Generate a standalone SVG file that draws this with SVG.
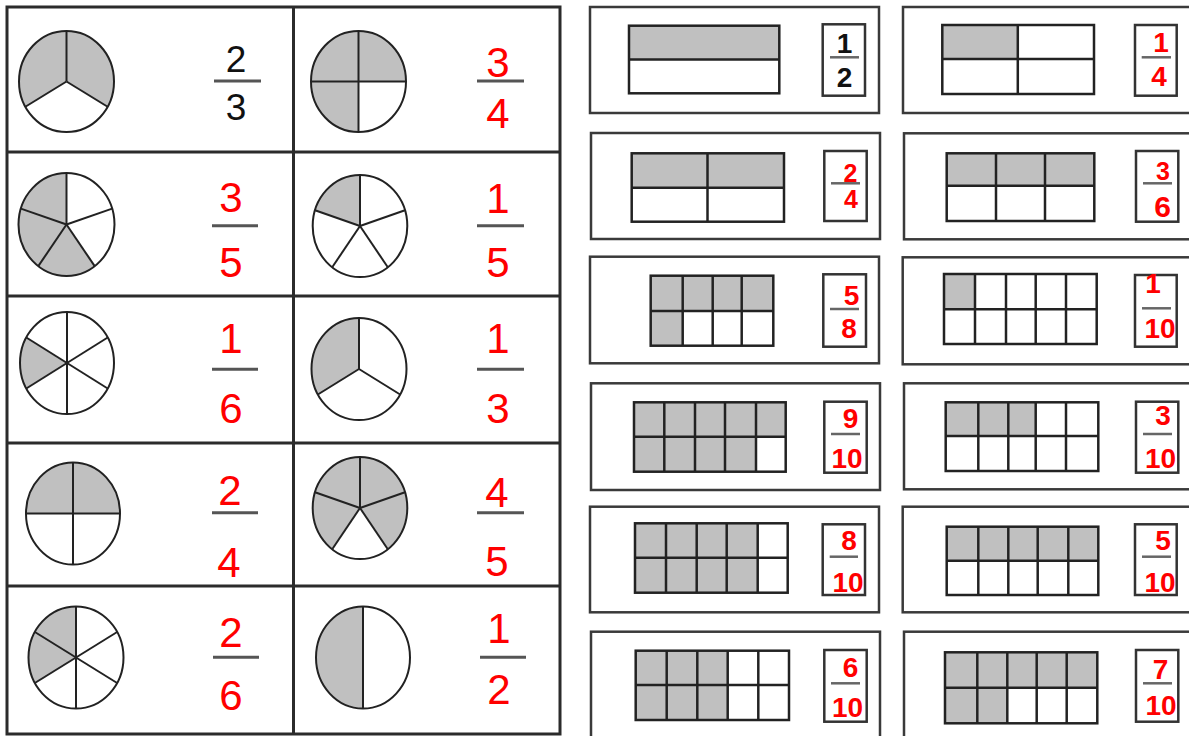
<svg xmlns="http://www.w3.org/2000/svg" width="1189" height="736" viewBox="0 0 1189 736">
<style>
.grid{fill:none;stroke:#2b2b2b;stroke-width:3}
.pie{fill:none;stroke:#222;stroke-width:2}
.sh{fill:#c0c0c0;stroke:none}
.sp{stroke:#222;stroke-width:2}
.fl{stroke:#555;stroke-width:3}
.bk{fill:#111;font-family:"Liberation Sans",Arial,sans-serif;font-size:37px;text-anchor:middle}
.rd{fill:#ff0000;font-family:"Liberation Sans",Arial,sans-serif;font-size:42px;text-anchor:middle}
.card{fill:#fff;stroke:#3a3a3a;stroke-width:2.5}
.box{fill:#fff;stroke:#333;stroke-width:2.5}
.gr{fill:none;stroke:#222;stroke-width:2.5}
.gl{stroke:#222;stroke-width:2.5}
.bl{stroke:#666;stroke-width:2.5}
.rb{fill:#ff0000;font-family:"Liberation Sans",Arial,sans-serif;font-weight:bold;font-size:28px;text-anchor:middle}
.kb{fill:#111;font-family:"Liberation Sans",Arial,sans-serif;font-weight:bold;font-size:28px;text-anchor:middle}
</style>
<rect width="1189" height="736" fill="#fff"/>

<g id="table">
<rect class="grid" x="7" y="7" width="553" height="727"/>
<line class="grid" x1="293.5" y1="7" x2="293.5" y2="734"/>
<line class="grid" x1="7" y1="152" x2="560" y2="152"/>
<line class="grid" x1="7" y1="296" x2="560" y2="296"/>
<line class="grid" x1="7" y1="443" x2="560" y2="443"/>
<line class="grid" x1="7" y1="586" x2="560" y2="586"/>
</g>

<g id="cell-2-3">
<path class="sh" d="M66.5,81.5 L25.36,106.75 A47.5,50.5 0 1 1 107.64,106.75 Z"/>
<ellipse class="pie" cx="66.5" cy="81.5" rx="47.5" ry="50.5"/>
<line class="sp" x1="66.5" y1="81.5" x2="66.5" y2="31"/>
<line class="sp" x1="66.5" y1="81.5" x2="25.36" y2="106.75"/>
<line class="sp" x1="66.5" y1="81.5" x2="107.64" y2="106.75"/>
<text class="bk" x="236" y="72">2</text>
<line class="fl" x1="214" y1="81" x2="261" y2="81"/>
<text class="bk" x="236" y="120">3</text>
</g>

<g id="cell-3-4">
<path class="sh" d="M358.5,81.5 L358.5,132 A47.5,50.5 0 1 1 406,81.5 Z"/>
<ellipse class="pie" cx="358.5" cy="81.5" rx="47.5" ry="50.5"/>
<line class="sp" x1="311" y1="81.5" x2="406" y2="81.5"/>
<line class="sp" x1="358.5" y1="31" x2="358.5" y2="132"/>
<text class="rd" x="498" y="77">3</text>
<line class="fl" x1="477" y1="81" x2="524" y2="81"/>
<text class="rd" x="498" y="128">4</text>
</g>

<g id="cell-3-5">
<path class="sh" d="M66.5,224.5 L94.71,266.16 A48,51.5 0 1 1 66.5,173 Z"/>
<ellipse class="pie" cx="66.5" cy="224.5" rx="48" ry="51.5"/>
<line class="sp" x1="66.5" y1="224.5" x2="66.5" y2="173"/>
<line class="sp" x1="66.5" y1="224.5" x2="112.15" y2="208.59"/>
<line class="sp" x1="66.5" y1="224.5" x2="94.71" y2="266.16"/>
<line class="sp" x1="66.5" y1="224.5" x2="38.29" y2="266.16"/>
<line class="sp" x1="66.5" y1="224.5" x2="20.85" y2="208.59"/>
<text class="rd" x="231" y="212">3</text>
<line class="fl" x1="212" y1="225.7" x2="258" y2="225.7"/>
<text class="rd" x="231" y="277">5</text>
</g>

<g id="cell-1-5">
<path class="sh" d="M360,226 L315.01,210.24 A47.3,51 0 0 1 360,175 Z"/>
<ellipse class="pie" cx="360" cy="226" rx="47.3" ry="51"/>
<line class="sp" x1="360" y1="226" x2="360" y2="175"/>
<line class="sp" x1="360" y1="226" x2="404.99" y2="210.24"/>
<line class="sp" x1="360" y1="226" x2="387.8" y2="267.26"/>
<line class="sp" x1="360" y1="226" x2="332.2" y2="267.26"/>
<line class="sp" x1="360" y1="226" x2="315.01" y2="210.24"/>
<text class="rd" x="498" y="213">1</text>
<line class="fl" x1="477" y1="225.7" x2="524" y2="225.7"/>
<text class="rd" x="498" y="277">5</text>
</g>

<g id="cell-1-6">
<path class="sh" d="M67,363 L26.3,388.5 A47,51 0 0 1 26.3,337.5 Z"/>
<ellipse class="pie" cx="67" cy="363" rx="47" ry="51"/>
<line class="sp" x1="67" y1="312" x2="67" y2="414"/>
<line class="sp" x1="26.3" y1="337.5" x2="107.7" y2="388.5"/>
<line class="sp" x1="26.3" y1="388.5" x2="107.7" y2="337.5"/>
<text class="rd" x="231" y="353">1</text>
<line class="fl" x1="212" y1="369.3" x2="258" y2="369.3"/>
<text class="rd" x="231" y="423">6</text>
</g>

<g id="cell-1-3">
<path class="sh" d="M359,369 L317.86,394.5 A47.5,51 0 0 1 359,318 Z"/>
<ellipse class="pie" cx="359" cy="369" rx="47.5" ry="51"/>
<line class="sp" x1="359" y1="369" x2="359" y2="318"/>
<line class="sp" x1="359" y1="369" x2="400.14" y2="394.5"/>
<line class="sp" x1="359" y1="369" x2="317.86" y2="394.5"/>
<text class="rd" x="498" y="353">1</text>
<line class="fl" x1="477" y1="369.3" x2="524" y2="369.3"/>
<text class="rd" x="498" y="423">3</text>
</g>

<g id="cell-2-4">
<path class="sh" d="M26,513.5 A47,51 0 0 1 120,513.5 Z"/>
<ellipse class="pie" cx="73" cy="513.5" rx="47" ry="51"/>
<line class="sp" x1="26" y1="513.5" x2="120" y2="513.5"/>
<line class="sp" x1="73" y1="462.5" x2="73" y2="564.5"/>
<text class="rd" x="230" y="505">2</text>
<line class="fl" x1="212" y1="512.7" x2="258" y2="512.7"/>
<text class="rd" x="229" y="576.7">4</text>
</g>

<g id="cell-4-5">
<path class="sh" d="M360,508 L332.2,549.26 A47.3,51 0 1 1 387.8,549.26 Z"/>
<ellipse class="pie" cx="360" cy="508" rx="47.3" ry="51"/>
<line class="sp" x1="360" y1="508" x2="360" y2="457"/>
<line class="sp" x1="360" y1="508" x2="404.99" y2="492.24"/>
<line class="sp" x1="360" y1="508" x2="387.8" y2="549.26"/>
<line class="sp" x1="360" y1="508" x2="332.2" y2="549.26"/>
<line class="sp" x1="360" y1="508" x2="315.01" y2="492.24"/>
<text class="rd" x="497" y="506.7">4</text>
<line class="fl" x1="477" y1="512.7" x2="524" y2="512.7"/>
<text class="rd" x="497" y="576">5</text>
</g>

<g id="cell-2-6">
<path class="sh" d="M76,657.5 L34.86,683 A47.5,51 0 0 1 76,606.5 Z"/>
<ellipse class="pie" cx="76" cy="657.5" rx="47.5" ry="51"/>
<line class="sp" x1="76" y1="606.5" x2="76" y2="708.5"/>
<line class="sp" x1="34.86" y1="632" x2="117.14" y2="683"/>
<line class="sp" x1="34.86" y1="683" x2="117.14" y2="632"/>
<text class="rd" x="231" y="647">2</text>
<line class="fl" x1="213" y1="657.3" x2="259" y2="657.3"/>
<text class="rd" x="231" y="710">6</text>
</g>

<g id="cell-1-2">
<path class="sh" d="M363,708.5 A47,51 0 0 1 363,606.5 Z"/>
<ellipse class="pie" cx="363" cy="657.5" rx="47" ry="51"/>
<line class="sp" x1="363" y1="606.5" x2="363" y2="708.5"/>
<text class="rd" x="499" y="643">1</text>
<line class="fl" x1="480" y1="657.3" x2="526" y2="657.3"/>
<text class="rd" x="499" y="704">2</text>
</g>

<!-- right side cards -->
<g id="card-1-2">
<rect class="card" x="590" y="7" width="289" height="106"/>
<rect class="sh" x="629" y="25.7" width="150.3" height="33.8"/>
<line class="gl" x1="629" y1="59.5" x2="779.3" y2="59.5"/>
<rect class="gr" x="629" y="25.7" width="150.3" height="67.6"/>
<rect class="box" x="822.7" y="24.3" width="42.3" height="71.4"/>
<text class="kb" x="844.5" y="53">1</text>
<line class="bl" x1="830" y1="57.3" x2="859" y2="57.3"/>
<text class="kb" x="844.5" y="87">2</text>
</g>

<g id="card-2-4">
<rect class="card" x="591" y="133" width="289" height="106"/>
<rect class="sh" x="631.7" y="153.3" width="152.3" height="34.4"/>
<line class="gl" x1="631.7" y1="187.7" x2="784" y2="187.7"/>
<line class="gl" x1="707.5" y1="153.3" x2="707.5" y2="221.7"/>
<rect class="gr" x="631.7" y="153.3" width="152.3" height="68.4"/>
<rect class="box" x="824.3" y="151" width="42.4" height="70"/>
<text class="rb" x="850.5" y="181.7" style="font-size:25px">2</text>
<line class="bl" x1="831" y1="183.3" x2="860" y2="183.3"/>
<text class="rb" x="851" y="208" style="font-size:25px">4</text>
</g>

<g id="card-1-4">
<rect class="card" x="903" y="7" width="292" height="106"/>
<rect class="sh" x="942.3" y="25" width="75.5" height="34"/>
<line class="gl" x1="942.3" y1="59" x2="1094" y2="59"/>
<line class="gl" x1="1017.8" y1="25" x2="1017.8" y2="94"/>
<rect class="gr" x="942.3" y="25" width="151.7" height="69"/>
<rect class="box" x="1135" y="25" width="41.7" height="70.7"/>
<text class="rb" x="1161" y="51.7">1</text>
<line class="bl" x1="1141.7" y1="57.3" x2="1171" y2="57.3"/>
<text class="rb" x="1159" y="85.7">4</text>
</g>

<g id="card-3-6">
<rect class="card" x="904" y="133.3" width="292" height="106"/>
<rect class="sh" x="946.7" y="153.3" width="147.6" height="32.4"/>
<line class="gl" x1="946.7" y1="185.7" x2="1094.3" y2="185.7"/>
<line class="gl" x1="996" y1="153.3" x2="996" y2="221"/>
<line class="gl" x1="1045" y1="153.3" x2="1045" y2="221"/>
<rect class="gr" x="946.7" y="153.3" width="147.6" height="67.7"/>
<rect class="box" x="1136" y="151" width="42.3" height="70.7"/>
<text class="rb" x="1163" y="180" style="font-size:25px">3</text>
<line class="bl" x1="1143" y1="183.3" x2="1172" y2="183.3"/>
<text class="rb" x="1162.5" y="216.7" style="font-size:30px">6</text>
</g>

<g id="card-5-8">
<rect class="card" x="590" y="256.7" width="289" height="106.6"/>
<rect class="sh" x="650.7" y="275.7" width="122.6" height="35.3"/>
<rect class="sh" x="650.7" y="311" width="32" height="34.7"/>
<line class="gl" x1="650.7" y1="311" x2="773.3" y2="311"/>
<line class="gl" x1="682.7" y1="275.7" x2="682.7" y2="345.7"/>
<line class="gl" x1="712.7" y1="275.7" x2="712.7" y2="345.7"/>
<line class="gl" x1="741.7" y1="275.7" x2="741.7" y2="345.7"/>
<rect class="gr" x="650.7" y="275.7" width="122.6" height="70"/>
<rect class="box" x="823.3" y="274.3" width="42.7" height="72.4"/>
<text class="rb" x="851.5" y="305">5</text>
<line class="bl" x1="830" y1="309" x2="859" y2="309"/>
<text class="rb" x="849" y="338.3">8</text>
</g>

<g id="card-1-10">
<rect class="card" x="902.7" y="257.3" width="292" height="107"/>
<rect class="sh" x="944" y="274" width="31" height="35.3"/>
<line class="gl" x1="944" y1="309.3" x2="1096.7" y2="309.3"/>
<line class="gl" x1="975" y1="274" x2="975" y2="344"/>
<line class="gl" x1="1006" y1="274" x2="1006" y2="344"/>
<line class="gl" x1="1035.7" y1="274" x2="1035.7" y2="344"/>
<line class="gl" x1="1066" y1="274" x2="1066" y2="344"/>
<rect class="gr" x="944" y="274" width="152.7" height="70"/>
<rect class="box" x="1135" y="275" width="41.7" height="71.7"/>
<text class="rb" x="1153" y="293.3">1</text>
<line class="bl" x1="1142" y1="308.3" x2="1171" y2="308.3"/>
<text class="rb" x="1160" y="338.3">10</text>
</g>

<g id="card-9-10">
<rect class="card" x="591" y="383.3" width="289" height="106.7"/>
<rect class="sh" x="634" y="402.3" width="151.7" height="34.4"/>
<rect class="sh" x="634" y="436.7" width="122" height="35"/>
<line class="gl" x1="634" y1="436.7" x2="785.7" y2="436.7"/>
<line class="gl" x1="664.3" y1="402.3" x2="664.3" y2="471.7"/>
<line class="gl" x1="695" y1="402.3" x2="695" y2="471.7"/>
<line class="gl" x1="725" y1="402.3" x2="725" y2="471.7"/>
<line class="gl" x1="756" y1="402.3" x2="756" y2="471.7"/>
<rect class="gr" x="634" y="402.3" width="151.7" height="69.4"/>
<rect class="box" x="824.3" y="401.7" width="42.4" height="71"/>
<text class="rb" x="850.5" y="428.3">9</text>
<line class="bl" x1="831" y1="434" x2="860" y2="434"/>
<text class="rb" x="847" y="468.3">10</text>
</g>

<g id="card-3-10">
<rect class="card" x="904" y="383.3" width="292" height="106"/>
<rect class="sh" x="945.7" y="402.3" width="90" height="33.7"/>
<line class="gl" x1="945.7" y1="436" x2="1098.3" y2="436"/>
<line class="gl" x1="978.3" y1="402.3" x2="978.3" y2="471"/>
<line class="gl" x1="1008.3" y1="402.3" x2="1008.3" y2="471"/>
<line class="gl" x1="1035.7" y1="402.3" x2="1035.7" y2="471"/>
<line class="gl" x1="1066" y1="402.3" x2="1066" y2="471"/>
<rect class="gr" x="945.7" y="402.3" width="152.6" height="68.7"/>
<rect class="box" x="1136" y="401.7" width="42.3" height="71"/>
<text class="rb" x="1163" y="425">3</text>
<line class="bl" x1="1143" y1="434" x2="1172" y2="434"/>
<text class="rb" x="1160.5" y="468.3">10</text>
</g>

<g id="card-8-10">
<rect class="card" x="590" y="506.7" width="289" height="105.6"/>
<rect class="sh" x="635" y="523.3" width="122.7" height="69.4"/>
<line class="gl" x1="635" y1="557.7" x2="787.7" y2="557.7"/>
<line class="gl" x1="666" y1="523.3" x2="666" y2="592.7"/>
<line class="gl" x1="696.7" y1="523.3" x2="696.7" y2="592.7"/>
<line class="gl" x1="726.7" y1="523.3" x2="726.7" y2="592.7"/>
<line class="gl" x1="757.7" y1="523.3" x2="757.7" y2="592.7"/>
<rect class="gr" x="635" y="523.3" width="152.7" height="69.4"/>
<rect class="box" x="822.7" y="524.3" width="42.3" height="70.7"/>
<text class="rb" x="849" y="550">8</text>
<line class="bl" x1="829.7" y1="556.7" x2="858" y2="556.7"/>
<text class="rb" x="848" y="591.7">10</text>
</g>

<g id="card-5-10">
<rect class="card" x="902.7" y="506.7" width="292" height="105.6"/>
<rect class="sh" x="946.7" y="526.7" width="151.6" height="34"/>
<line class="gl" x1="946.7" y1="560.7" x2="1098.3" y2="560.7"/>
<line class="gl" x1="978.3" y1="526.7" x2="978.3" y2="595"/>
<line class="gl" x1="1008.3" y1="526.7" x2="1008.3" y2="595"/>
<line class="gl" x1="1037.7" y1="526.7" x2="1037.7" y2="595"/>
<line class="gl" x1="1068.3" y1="526.7" x2="1068.3" y2="595"/>
<rect class="gr" x="946.7" y="526.7" width="151.6" height="68.3"/>
<rect class="box" x="1135" y="524.3" width="41.7" height="70.7"/>
<text class="rb" x="1163" y="550">5</text>
<line class="bl" x1="1142" y1="556.7" x2="1171" y2="556.7"/>
<text class="rb" x="1160" y="592.3">10</text>
</g>

<g id="card-6-10">
<rect class="card" x="591" y="631.7" width="289" height="110"/>
<rect class="sh" x="635.7" y="650.7" width="92" height="69.3"/>
<line class="gl" x1="635.7" y1="685" x2="789" y2="685"/>
<line class="gl" x1="666.7" y1="650.7" x2="666.7" y2="720"/>
<line class="gl" x1="697.3" y1="650.7" x2="697.3" y2="720"/>
<line class="gl" x1="727.7" y1="650.7" x2="727.7" y2="720"/>
<line class="gl" x1="758.3" y1="650.7" x2="758.3" y2="720"/>
<rect class="gr" x="635.7" y="650.7" width="153.3" height="69.3"/>
<rect class="box" x="824.3" y="650" width="42.4" height="71.7"/>
<text class="rb" x="850.5" y="676.7">6</text>
<line class="bl" x1="831" y1="683.3" x2="860" y2="683.3"/>
<text class="rb" x="847.5" y="716.7">10</text>
</g>

<g id="card-7-10">
<rect class="card" x="904" y="631.7" width="292" height="110"/>
<rect class="sh" x="945" y="652.3" width="152.3" height="35.4"/>
<rect class="sh" x="945" y="687.7" width="62.3" height="35.6"/>
<line class="gl" x1="945" y1="687.7" x2="1097.3" y2="687.7"/>
<line class="gl" x1="977.3" y1="652.3" x2="977.3" y2="723.3"/>
<line class="gl" x1="1007.3" y1="652.3" x2="1007.3" y2="723.3"/>
<line class="gl" x1="1036.7" y1="652.3" x2="1036.7" y2="723.3"/>
<line class="gl" x1="1066.7" y1="652.3" x2="1066.7" y2="723.3"/>
<rect class="gr" x="945" y="652.3" width="152.3" height="71"/>
<rect class="box" x="1136" y="650" width="42.3" height="71.7"/>
<text class="rb" x="1160.5" y="679">7</text>
<line class="bl" x1="1143" y1="683.3" x2="1172" y2="683.3"/>
<text class="rb" x="1161" y="715">10</text>
</g>
</svg>
